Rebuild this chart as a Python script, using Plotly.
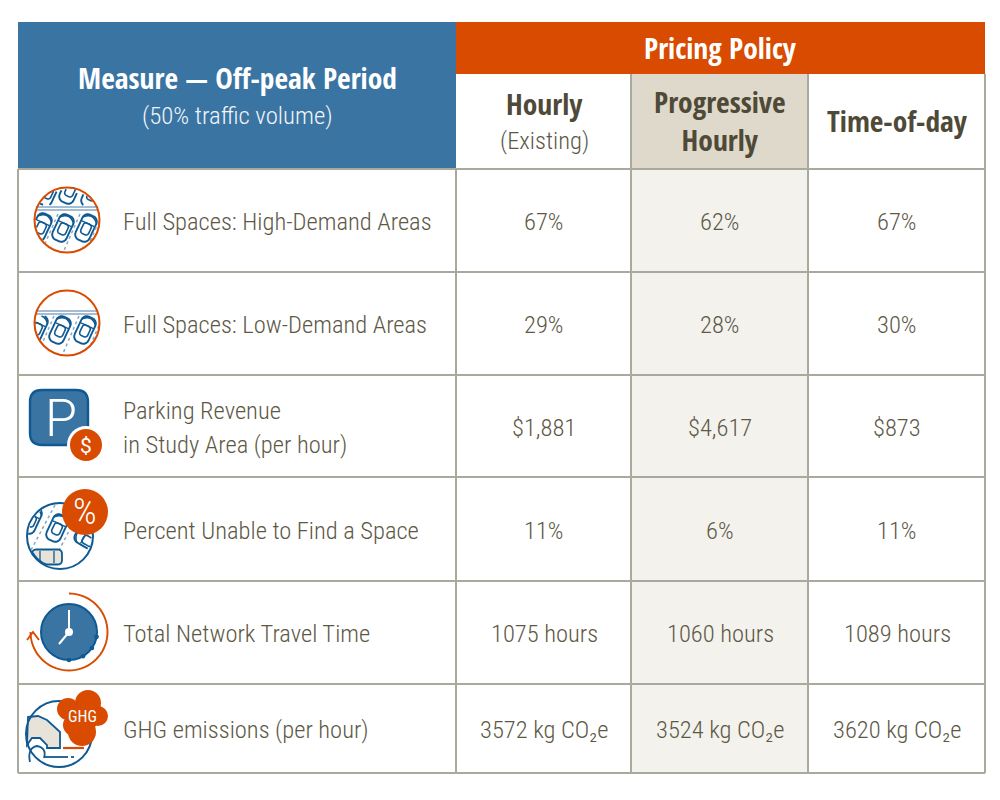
import math
import plotly.graph_objects as go

measure_title = "Measure — Off-peak Period"
measure_sub = "(50% traffic volume)"
group_title = "Pricing Policy"
policies = ["Hourly", "Progressive<br>Hourly", "Time-of-day"]
policy_note = "(Existing)"
measures = [
    ["Full Spaces: High-Demand Areas"],
    ["Full Spaces: Low-Demand Areas"],
    ["Parking Revenue", "in Study Area (per hour)"],
    ["Percent Unable to Find a Space"],
    ["Total Network Travel Time"],
    ["GHG emissions (per hour)"],
]
hourly = ["67%", "29%", "$1,881", "11%", "1075 hours", "3572 kg CO₂e"]
progressive = ["62%", "28%", "$4,617", "6%", "1060 hours", "3524 kg CO₂e"]
time_of_day = ["67%", "30%", "$873", "11%", "1089 hours", "3620 kg CO₂e"]

LIGHT = "Roboto Condensed"
HEAVY = "Open Sans Condensed"
BLUE = "#3a74a3"; NAVY = "#0f5a92"; ORANGE = "#d84b00"; GRID = "#a9a99d"; DOT = "#86a6c6"
TXT = "#5d5846"; DARK = "#4f4a37"; BEIGE = "#ded9ca"; PALE = "#f3f2ed"; SAND = "#e7e3d8"
X = [18, 456, 631, 808, 985]
Y = [22, 169, 272, 375, 477, 581, 684, 773]

shapes, notes = [], []
NONE = "rgba(0,0,0,0)"

def rect(x0, y0, x1, y1, fill):
    shapes.append(dict(type="rect", x0=x0, y0=y0, x1=x1, y1=y1, fillcolor=fill, line=dict(color=fill, width=0)))

def seg(x0, y0, x1, y1, color, w=1, dash="solid"):
    shapes.append(dict(type="line", x0=x0, y0=y0, x1=x1, y1=y1, line=dict(color=color, width=w, dash=dash)))

def circ(cx, cy, r, fill=NONE, line=None, w=0):
    shapes.append(dict(type="circle", x0=cx - r, y0=cy - r, x1=cx + r, y1=cy + r, fillcolor=fill,
                       line=dict(color=line or fill, width=w)))

def path(d, color, w=1, fill=NONE):
    shapes.append(dict(type="path", path=d, fillcolor=fill, line=dict(color=color, width=w)))

def text(x, y, s, size, color=TXT, anchor="center", heavy=False, font=None, weight=None):
    notes.append(dict(x=x, y=y, text=s, showarrow=False, xanchor=anchor, yanchor="middle",
                      font=dict(family=font or (HEAVY if heavy else LIGHT), size=size, color=color,
                                weight=weight or (700 if heavy else 300))))

def clip_path(pts, c, closed=False, ymin=-1e9, ymax=1e9):
    if closed:
        pts = pts + [pts[0]]
    d, pen = [], False
    for (x, y) in pts:
        inside = (c is None or math.hypot(x - c[0], y - c[1]) <= c[2]) and ymin <= y <= ymax
        if inside:
            d.append(("L" if pen else "M") + f"{x:.2f},{y:.2f}")
        pen = inside
    return " ".join(d)

def clamp_poly(pts, c):
    out = []
    for x, y in pts:
        r = math.hypot(x - c[0], y - c[1])
        if r > c[2]:
            x, y = c[0] + (x - c[0]) * c[2] / r, c[1] + (y - c[1]) * c[2] / r
        out.append(f"{x:.2f},{y:.2f}")
    return "M" + " L".join(out) + " Z"

def rr(w, h, r, n=5):
    out = []
    for cx, cy, a0 in [(w/2-r, -h/2+r, -90), (w/2-r, h/2-r, 0), (-w/2+r, h/2-r, 90), (-w/2+r, -h/2+r, 180)]:
        for i in range(n + 1):
            a = math.radians(a0 + 90 * i / n)
            out.append((cx + r * math.cos(a), cy + r * math.sin(a)))
    dense = []
    for i, p in enumerate(out):
        q = out[(i + 1) % len(out)]
        for t in range(4):
            dense.append((p[0] + (q[0]-p[0]) * t / 4, p[1] + (q[1]-p[1]) * t / 4))
    return dense

def place(pts, cx, cy, deg):
    a = math.radians(deg)
    return [(cx + x*math.cos(a) - y*math.sin(a), cy + x*math.sin(a) + y*math.cos(a)) for x, y in pts]

def car(cx, cy, deg, c=None, ymin=-1e9, ymax=1e9, s=0.95):
    for pts, w, closed in [
        (rr(16*s, 29*s, 6*s), 1.9, True),
        (rr(9*s, 12*s, 3*s), 1.6, True),
        ([(-8*s + i*s, -9*s - 0.07*(64 - (i-8)**2)*s) for i in range(17)], 1.6, False),
        ([(-7*s + i*s, -5*s) for i in range(15)], 1.4, False),
    ]:
        off = 0 if w != 1.6 or not closed else 1*s
        d = clip_path(place(pts, cx, cy + off, deg), c, closed, ymin, ymax)
        if d:
            path(d, NAVY, w)

def dots(x0, y0, x1, y1, c):
    n = 60
    pts = [(x0 + (x1-x0)*i/n, y0 + (y1-y0)*i/n) for i in range(n+1)]
    pts = [p for p in pts if math.hypot(p[0]-c[0], p[1]-c[1]) <= c[2]]
    if len(pts) > 1:
        seg(pts[0][0], pts[0][1], pts[-1][0], pts[-1][1], DOT, 1.5, "dot")

# ---- table body ----
rect(X[0], Y[0], X[1], Y[1], BLUE)
rect(X[1], Y[0], X[4], 74, ORANGE)
rect(X[2], 74, X[3], Y[1], BEIGE)
rect(X[2], Y[1], X[3], Y[-1], PALE)
for y in Y[1:]:
    seg(X[0], y, X[4], y, GRID, 2)
for x in X[1:]:
    seg(x, 74 if x != X[1] else Y[1], x, Y[-1], GRID, 2)
seg(X[0], Y[1], X[0], Y[-1], GRID, 2)

# ---- header text ----
text(237, 77, measure_title, 29.5, "white", heavy=True)
text(237, 115, measure_sub, 24.8, "#f2f5f8")
text(720, 47, group_title, 29.5, "white", heavy=True)
text(544, 103, policies[0], 29.5, DARK, heavy=True)
text(544, 140, policy_note, 24.5, TXT)
text(720, 120, policies[1], 29.5, DARK, heavy=True)
text(897, 120, policies[2], 29.5, DARK, heavy=True)

# ---- rows ----
centers = [(Y[i] + Y[i+1]) / 2 for i in range(1, 7)]
for i, cy in enumerate(centers):
    lab = measures[i]
    if len(lab) == 1:
        text(121, cy + 1, lab[0], 24.5, TXT, "left")
    else:
        text(121, cy - 16, lab[0], 24.5, TXT, "left")
        text(121, cy + 18, lab[1], 24.5, TXT, "left")
    for cx, col in zip([544, 720, 897], [hourly, progressive, time_of_day]):
        text(cx, cy + 1, col[i], 24.5, TXT)

# ---- icon 1 ----
c = (67, 220, 32)
for x, y in [(48, 192), (70, 190), (92, 194)]:
    car(x, y, 25, c, ymax=205)
seg(36, 207, 98, 207, DOT, 1.3); seg(36, 210, 98, 210, DOT, 1.3)
for x, y in [(41, 227), (63, 228), (86, 228)]:
    car(x, y, 25, c, ymin=212)
for x0 in (52, 74, 96):
    dots(x0 + 6, 214, x0 - 12, 255, c)
circ(67, 220, 32.5, line=ORANGE, w=2)

# ---- icon 2 ----
c = (67, 323, 32)
seg(36, 311, 98, 311, DOT, 1.3); seg(36, 314, 98, 314, DOT, 1.3)
for x, y in [(37, 328), (60, 330), (85, 330)]:
    car(x, y, 25, c, ymin=316)
for x0 in (48, 73, 97):
    dots(x0 + 6, 316, x0 - 12, 358, c)
circ(67, 323, 32.5, line=ORANGE, w=2)

# ---- icon 3 ----
path("M42,390 L76,390 Q88,390 88,402 L88,433 Q88,445 76,445 L42,445 Q30,445 30,433 L30,402 Q30,390 42,390 Z",
     NAVY, 2.4, BLUE)
text(61, 418, "P", 52, "white", font="Roboto")
circ(86, 445, 19, fill="white")
circ(86, 445, 16, fill=ORANGE)
text(86, 446, "$", 21, "white", font="Roboto", weight=400)

# ---- icon 4 ----
c = (60, 536, 32)
dots(55, 505, 30, 552, c); dots(80, 510, 56, 556, c)
car(57, 528, 25, c)
car(31, 520, 25, c)
car(88, 540, -60, c)
path(clamp_poly(place(rr(15, 30, 4), 47, 557, 90), c), NAVY, 1.8, SAND)
seg(40, 551, 40, 563, NAVY, 1.3); seg(54, 551, 54, 563, NAVY, 1.3)
circ(60, 536, 33, line=NAVY, w=2)
circ(85, 512, 23, fill=ORANGE)
text(85, 511, "%", 37, "white", font=LIGHT, weight=300)

# ---- icon 5 ----
arc = [(69 + 38.5*math.cos(math.radians(a)), 632 + 38.5*math.sin(math.radians(a))) for a in range(-90, 181, 5)]
path(clip_path(arc, None), ORANGE, 1.9)
path("M27,640 L33,632 L39,640", ORANGE, 1.9)
circ(69, 632, 28, fill=BLUE, line=NAVY, w=2)
for a in [10, 35, 60, 90]:
    circ(69 + 28*math.cos(math.radians(a)), 632 + 28*math.sin(math.radians(a)), 2.3, fill=NAVY)
seg(69, 632, 69, 610, "white", 2)
seg(69, 632, 59, 644, "white", 2)
circ(69, 632, 4, fill="white")

# ---- icon 6 ----
c = (59, 734, 32)
car_pts = [(28, 717), (38, 716), (47, 720), (60, 732), (60, 748), (47, 748), (47, 745),
           (40, 738), (32, 738), (27, 745)]
path("M" + " L".join(f"{x},{y}" for x, y in car_pts) + " Z", NAVY, 1.8, SAND)
path("M30,762 Q27,748 37,746 Q47,748 44,758", NAVY, 1.8, "white")
seg(44, 757, 68, 757, NAVY, 1.8)
seg(71, 757, 74, 757, NAVY, 1.8)
circ(59, 734, 33, line=NAVY, w=2)
for x, y, r in [(88, 703, 13), (68, 709, 11), (98, 716, 10), (82, 732, 14), (74, 725, 11), (86, 716, 14)]:
    circ(x, y, r, fill=ORANGE)
seg(63, 748, 84, 748, ORANGE, 2.2)
text(82, 716, "GHG", 16, "white", weight=400)

fig = go.Figure()
fig.update_layout(width=1000, height=800, margin=dict(l=0, r=0, t=0, b=0),
                  paper_bgcolor="white", plot_bgcolor="white", showlegend=False,
                  xaxis=dict(range=[0, 1000], visible=False, fixedrange=True),
                  yaxis=dict(range=[800, 0], visible=False, fixedrange=True),
                  shapes=shapes, annotations=notes)
fig.write_html("out.html", config=dict(displayModeBar=False),
               post_script="document.body.style.margin='0';")
